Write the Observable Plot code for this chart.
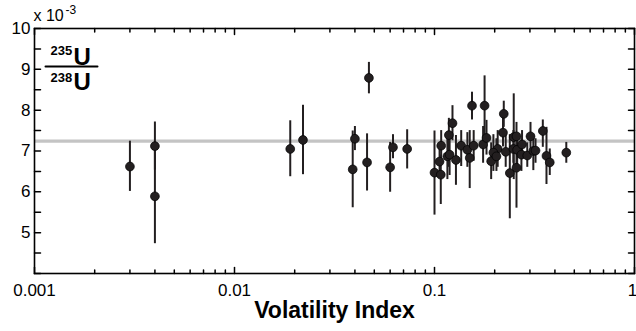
<!DOCTYPE html>
<html><head><meta charset="utf-8">
<script src="https://cdn.jsdelivr.net/npm/d3@7"></script>
<script src="https://cdn.jsdelivr.net/npm/@observablehq/plot@0.6"></script>
<style>html,body{margin:0;padding:0;background:#fff} svg{display:block}</style>
</head><body><div id="chart"></div>
<script>
// Volatility index (x) and 235U/238U ratio (x 10^-3) with error bar limits
const volatility = [0.0030,0.0040,0.0040,0.019,0.022,0.039,0.040,0.047,0.046,0.060,0.062,0.073,
  0.100,0.1075,0.106,0.108,0.118,0.123,0.116,0.119,0.128,0.136,0.146,0.150,0.157,0.154,
  0.178,0.175,0.182,0.222,0.220,0.207,0.197,0.192,0.204,0.227,0.238,0.249,0.257,0.248,
  0.257,0.259,0.274,0.272,0.291,0.302,0.312,0.348,0.320,0.363,0.377,0.456];
const ratio = [6.62,7.12,5.89,7.05,7.27,6.55,7.30,8.79,6.72,6.60,7.09,7.05,
  6.47,6.42,6.74,7.13,7.39,7.68,6.87,6.91,6.78,7.13,7.03,6.83,7.13,8.11,
  8.11,7.16,7.32,7.91,7.45,7.05,6.96,6.75,6.87,6.98,6.46,7.34,6.59,7.05,
  7.36,7.03,7.16,6.91,6.89,7.36,7.00,7.49,7.01,6.88,6.72,6.96];
const ratioLow = [6.01,6.53,4.73,6.37,6.42,5.61,7.01,8.40,6.02,5.99,6.81,6.56,
  5.43,5.69,6.35,6.70,6.60,7.25,6.30,6.40,6.16,6.62,6.60,6.08,6.75,7.76,
  7.38,6.70,6.90,7.58,7.10,6.60,6.50,6.30,6.50,6.60,5.34,6.30,5.60,6.70,
  7.00,6.60,6.80,6.50,6.60,7.00,6.52,7.09,6.70,6.18,6.40,6.70];
const ratioHigh = [7.24,7.71,7.05,7.74,8.12,7.49,7.60,9.17,7.42,7.21,7.40,7.52,
  7.49,6.90,7.13,7.50,7.80,8.11,7.40,7.40,7.38,7.50,7.45,7.50,7.50,8.44,
  8.84,7.60,7.75,8.22,7.80,7.50,7.40,7.20,7.30,7.40,7.40,8.40,7.20,7.50,
  7.70,7.40,7.50,7.30,7.20,7.70,7.40,7.76,7.30,7.58,7.05,7.21];
const referenceRatio = 7.24;
const xTickValues = [0.001, 0.01, 0.1, 1];
const xTickLabels = ["0.001", "0.01", "0.1", "1"];
const yTickValues = [5, 6, 7, 8, 9, 10];

const data = volatility.map((v, i) => ({x: v, y: ratio[i], lo: ratioLow[i], hi: ratioHigh[i]}));
const xMinor = [];
for (const d of [0.001, 0.01, 0.1]) for (let k = 2; k <= 9; k++) xMinor.push(d * k);
const yHalf = d3.range(4, 10.001, 0.5);

const tickShape = {draw(ctx, l) { ctx.moveTo(0, 0); ctx.lineTo(0, -l); }};
const ink = "#231f20";
const lbl = (i) => xTickLabels[i];

const chart = Plot.plot({
  width: 636, height: 331,
  marginLeft: 34, marginRight: 2, marginTop: 28, marginBottom: 58,
  style: {fontFamily: "'Liberation Sans', Arial, sans-serif", color: "#000", background: "#fff"},
  x: {type: "log", domain: [0.001, 1]},
  y: {domain: [4, 10]},
  marks: [
    Plot.ruleY([referenceRatio], {stroke: "#c4c4c4", strokeWidth: 3.2}),
    Plot.ruleX(data, {x: "x", y1: "lo", y2: "hi", stroke: ink, strokeWidth: 2}),
    Plot.dot(data, {x: "x", y: "y", r: 4.4, fill: ink, stroke: "#000", strokeWidth: 0.7}),
    Plot.frame({stroke: "#000", strokeWidth: 1.6}),
    // inward ticks
    Plot.vector(xTickValues, {x: d => d, frameAnchor: "bottom", rotate: 0, length: 6, anchor: "start", shape: tickShape, strokeWidth: 1.5, stroke: "#000"}),
    Plot.vector(xMinor, {x: d => d, frameAnchor: "bottom", rotate: 0, length: 3.5, anchor: "start", shape: tickShape, strokeWidth: 1.5, stroke: "#000"}),
    Plot.vector(xTickValues, {x: d => d, frameAnchor: "top", rotate: 180, length: 6, anchor: "start", shape: tickShape, strokeWidth: 1.5, stroke: "#000"}),
    Plot.vector(xMinor, {x: d => d, frameAnchor: "top", rotate: 180, length: 3.5, anchor: "start", shape: tickShape, strokeWidth: 1.5, stroke: "#000"}),
    Plot.vector(yHalf, {y: d => d, frameAnchor: "left", rotate: 90, length: 6, anchor: "start", shape: tickShape, strokeWidth: 1.5, stroke: "#000"}),
    Plot.vector(yHalf, {y: d => d, frameAnchor: "right", rotate: -90, length: 6, anchor: "start", shape: tickShape, strokeWidth: 1.5, stroke: "#000"}),
    Plot.axisX({ticks: xTickValues.slice(0, 3), tickFormat: d => lbl(xTickValues.indexOf(d)), tickSize: 0, tickPadding: 10, fontSize: 17, label: null, fill: "#000"}),
    Plot.axisX({ticks: xTickValues.slice(3), tickFormat: d => lbl(xTickValues.indexOf(d)), tickSize: 0, tickPadding: 10, fontSize: 17, label: null, fill: "#000", dx: -2}),
    Plot.axisY({ticks: yTickValues, tickFormat: d => String(d), tickSize: 0, tickPadding: 4, fontSize: 17, label: null, fill: "#000"}),
    Plot.text(["Volatility Index"], {text: d => d, frameAnchor: "bottom", lineAnchor: "middle", dy: 37, fontSize: 23, fontWeight: "bold", fill: "#000"}),
    Plot.text(["x 10"], {text: d => d, frameAnchor: "top-left", textAnchor: "start", lineAnchor: "middle", dx: -1, dy: -12.4, fontSize: 16, fill: "#000"}),
    Plot.text(["-3"], {text: d => d, frameAnchor: "top-left", textAnchor: "start", lineAnchor: "middle", dx: 31, dy: -18.8, fontSize: 12, fill: "#000"}),
    Plot.text(["235"], {text: d => d, frameAnchor: "top-left", textAnchor: "start", lineAnchor: "middle", dx: 16, dy: 22.8, fontSize: 13, fontWeight: "bold", fill: "#000"}),
    Plot.text(["U"], {text: d => d, frameAnchor: "top-left", textAnchor: "start", lineAnchor: "middle", dx: 39, dy: 29.3, fontSize: 24, fontWeight: "bold", fill: "#000"}),
    Plot.vector([0], {frameAnchor: "top-left", dx: 11, dy: 38, rotate: 90, length: 52, anchor: "start", shape: tickShape, strokeWidth: 2, stroke: "#000"}),
    Plot.text(["238"], {text: d => d, frameAnchor: "top-left", textAnchor: "start", lineAnchor: "middle", dx: 16, dy: 49.8, fontSize: 13, fontWeight: "bold", fill: "#000"}),
    Plot.text(["U"], {text: d => d, frameAnchor: "top-left", textAnchor: "start", lineAnchor: "middle", dx: 39, dy: 54.3, fontSize: 24, fontWeight: "bold", fill: "#000"})
  ]
});
document.getElementById("chart").appendChild(chart);
</script>
</body></html>
